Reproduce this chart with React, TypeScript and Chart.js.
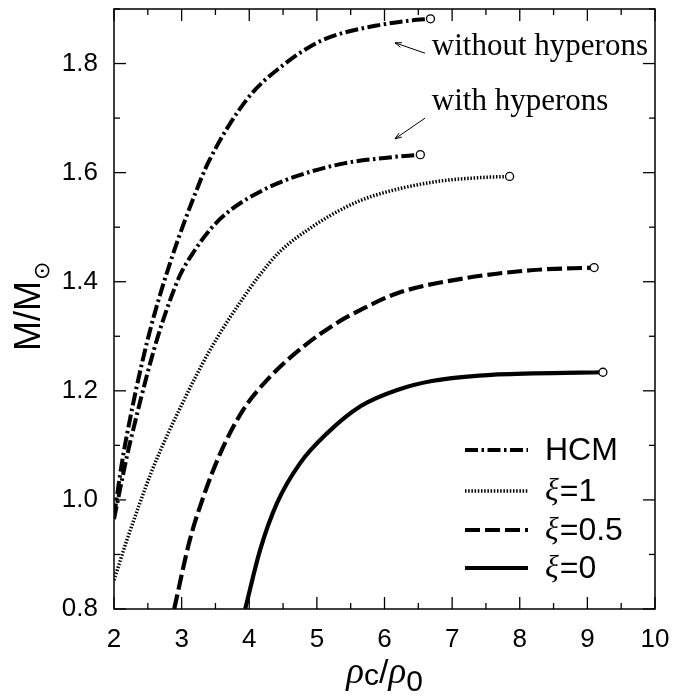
import React, { useEffect, useRef } from "react";
import { Chart, registerables } from "chart.js";

Chart.register(...registerables);

// ---- axis ticks ----
const xTickValues = [2, 3, 4, 5, 6, 7, 8, 9, 10];
const yTickValues = [0.8, 1.0, 1.2, 1.4, 1.6, 1.8];
const xMinorStep = 0.5;
const yMinorStep = 0.1;

// ---- HCM without hyperons (dash-dot, upper) ----
const rhoHcmNoHyp = [2.0, 2.12, 2.2, 2.34, 2.49, 2.59, 2.74, 2.94, 3.18, 3.4, 3.97, 4.5, 5.0, 5.3, 5.9, 6.4, 6.68];
const massHcmNoHyp = [0.97, 1.07, 1.125, 1.21, 1.29, 1.337, 1.4, 1.475, 1.555, 1.62, 1.735, 1.797, 1.838, 1.853, 1.87, 1.879, 1.882];

// ---- HCM with hyperons (dash-dot, lower) ----
const rhoHcmHyp = [2.0, 2.2, 2.3, 2.39, 2.49, 2.59, 2.69, 2.84, 2.98, 3.18, 3.43, 3.73, 4.22, 4.71, 5.4, 6.0, 6.53];
const massHcmHyp = [0.965, 1.085, 1.137, 1.182, 1.23, 1.275, 1.316, 1.37, 1.413, 1.455, 1.497, 1.532, 1.569, 1.594, 1.617, 1.627, 1.633];

// ---- xi = 1 (dotted) ----
const rhoXi1 = [2.0, 2.19, 2.55, 2.8, 3.0, 3.2, 3.43, 3.65, 3.87, 4.14, 4.45, 4.96, 5.4, 5.8, 6.68, 7.42, 7.85];
const massXi1 = [0.853, 0.926, 1.05, 1.122, 1.174, 1.224, 1.277, 1.322, 1.363, 1.41, 1.455, 1.503, 1.535, 1.556, 1.582, 1.591, 1.593];

// ---- xi = 0.5 (dashed) ----
const rhoXi05 = [2.89, 3.12, 3.32, 3.57, 3.91, 4.31, 4.8, 5.29, 5.64, 6.19, 7.17, 8.16, 9.1];
const massXi05 = [0.8, 0.926, 1.005, 1.085, 1.165, 1.226, 1.281, 1.324, 1.348, 1.379, 1.406, 1.421, 1.426];

// ---- xi = 0 (solid) ----
const rhoXi0 = [3.94, 4.16, 4.41, 4.75, 5.15, 5.65, 6.2, 6.7, 7.4, 8.2, 9.23];
const massXi0 = [0.8, 0.908, 0.994, 1.067, 1.122, 1.172, 1.202, 1.218, 1.228, 1.232, 1.234];

// ---- texts ----
const legendNames = ["HCM", "=1", "=0.5", "=0"];
const legendHasXi = [false, true, true, true];
const annotationTexts = ["without hyperons", "with hyperons"];

const SANS = "'Liberation Sans', Arial, sans-serif";
const SERIF = "'Liberation Serif', 'Times New Roman', serif";

const DASH_DOT = [13, 3.5, 2.5, 3.5];
const DOTTED = [1.5, 1.7];
const DASHED = [15, 5];
const SOLID: number[] = [];

const styles = [
  { dash: DASH_DOT, width: 4 },
  { dash: DOTTED, width: 3.5 },
  { dash: DASHED, width: 4.2 },
  { dash: SOLID, width: 4.2 },
];

function pts(xs: number[], ys: number[]) {
  return xs.map((x, i) => ({ x, y: ys[i] }));
}

function makeDataset(xs: number[], ys: number[], dash: number[], width: number) {
  return {
    data: pts(xs, ys),
    borderColor: "#000",
    borderWidth: width,
    borderDash: dash,
    cubicInterpolationMode: "monotone" as const,
    fill: false,
    pointRadius: (c: any) => (c.dataIndex === c.dataset.data.length - 1 ? 4 : 0),
    pointHoverRadius: 0,
    pointBackgroundColor: "#fff",
    pointBorderColor: "#000",
    pointBorderWidth: 1.3,
  };
}

const decorPlugin = {
  id: "decor",
  afterDraw(chart: any) {
    const { ctx, chartArea: a, scales } = chart;
    const xs = scales.x;
    const ys = scales.y;
    ctx.save();
    ctx.setLineDash([]);
    ctx.strokeStyle = "#000";
    ctx.fillStyle = "#000";

    // frame
    ctx.lineWidth = 1.5;
    ctx.strokeRect(a.left, a.top, a.right - a.left, a.bottom - a.top);

    const seg = (x1: number, y1: number, x2: number, y2: number) => {
      ctx.beginPath();
      ctx.moveTo(x1, y1);
      ctx.lineTo(x2, y2);
      ctx.stroke();
    };

    // x ticks (inside, bottom & top)
    ctx.lineWidth = 1.3;
    const xMin = xs.min, xMax = xs.max;
    const nx = Math.round((xMax - xMin) / xMinorStep);
    for (let i = 0; i <= nx; i++) {
      const v = xMin + i * xMinorStep;
      const major = xTickValues.some((t) => Math.abs(t - v) < 1e-6);
      const len = major ? 12 : 6;
      const px = xs.getPixelForValue(v);
      seg(px, a.bottom, px, a.bottom - len);
      seg(px, a.top, px, a.top + len);
    }
    // y ticks (inside, left & right)
    const yMin = ys.min, yMax = ys.max;
    const ny = Math.round((yMax - yMin) / yMinorStep);
    for (let i = 0; i <= ny; i++) {
      const v = yMin + i * yMinorStep;
      const major = yTickValues.some((t) => Math.abs(t - v) < 1e-6);
      const len = major ? 12 : 6;
      const py = ys.getPixelForValue(v);
      seg(a.left, py, a.left + len, py);
      seg(a.right, py, a.right - len, py);
    }

    // legend
    const lx0 = a.right - 190;
    const lx1 = a.right - 127;
    const tx = a.right - 110;
    const rowOffsets = [159, 118, 79, 41];
    styles.forEach((s, i) => {
      const y = a.bottom - rowOffsets[i];
      ctx.setLineDash(s.dash);
      ctx.lineWidth = s.width;
      ctx.lineCap = "butt";
      seg(lx0, y, lx1, y);
      ctx.setLineDash([]);
      ctx.textBaseline = "middle";
      ctx.textAlign = "left";
      let x = tx;
      if (legendHasXi[i]) {
        ctx.font = `italic 32px ${SERIF}`;
        ctx.fillText("ξ", x, y + 1);
        x += ctx.measureText("ξ").width + 1;
      }
      ctx.font = `32px ${SANS}`;
      ctx.fillText(legendNames[i], x, y + 1);
    });

    // annotations
    ctx.font = `31px ${SERIF}`;
    ctx.textBaseline = "alphabetic";
    ctx.textAlign = "left";
    const annX = xs.getPixelForValue(6.7);
    ctx.fillText(annotationTexts[0], annX, ys.getPixelForValue(1.816));
    ctx.fillText(annotationTexts[1], annX, ys.getPixelForValue(1.715));

    const arrow = (x1: number, y1: number, x2: number, y2: number) => {
      ctx.lineWidth = 1;
      seg(x1, y1, x2, y2);
      const ang = Math.atan2(y2 - y1, x2 - x1);
      const hl = 7, hw = 0.35;
      seg(x2, y2, x2 - hl * Math.cos(ang - hw), y2 - hl * Math.sin(ang - hw));
      seg(x2, y2, x2 - hl * Math.cos(ang + hw), y2 - hl * Math.sin(ang + hw));
    };
    arrow(xs.getPixelForValue(6.6), ys.getPixelForValue(1.819), xs.getPixelForValue(6.155), ys.getPixelForValue(1.838));
    arrow(xs.getPixelForValue(6.6), ys.getPixelForValue(1.7), xs.getPixelForValue(6.155), ys.getPixelForValue(1.662));

    // x axis title: rho_c / rho_0
    {
      const base = a.bottom + 74;
      const parts = [
        { t: "ρ", f: `italic 37px ${SERIF}`, dy: 0 },
        { t: "c", f: `30px ${SANS}`, dy: 2 },
        { t: "/", f: `34px ${SANS}`, dy: 0 },
        { t: "ρ", f: `italic 37px ${SERIF}`, dy: 0 },
        { t: "0", f: `30px ${SANS}`, dy: 8 },
      ];
      let total = 0;
      const widths = parts.map((p) => {
        ctx.font = p.f;
        const w = ctx.measureText(p.t).width;
        total += w;
        return w;
      });
      let x = (a.left + a.right) / 2 - total / 2;
      ctx.textAlign = "left";
      ctx.textBaseline = "alphabetic";
      parts.forEach((p, i) => {
        ctx.font = p.f;
        ctx.fillText(p.t, x, base + p.dy);
        x += widths[i];
      });
    }

    // y axis title: M / M_sun
    {
      ctx.translate(40, (a.top + a.bottom) / 2 + 42);
      ctx.rotate(-Math.PI / 2);
      ctx.textAlign = "left";
      ctx.textBaseline = "alphabetic";
      ctx.font = `36px ${SANS}`;
      const main = "M/M";
      ctx.fillText(main, 0, 0);
      const w = ctx.measureText(main).width;
      ctx.font = `22px 'DejaVu Sans', sans-serif`;
      ctx.textBaseline = "middle";
      ctx.fillText("⊙", w + 1, 3);
    }

    ctx.restore();
  },
};

const zeroPadding = (s: any) => {
  s.paddingTop = 0;
  s.paddingBottom = 0;
  s.paddingLeft = 0;
  s.paddingRight = 0;
};

export default function App() {
  const canvasRef = useRef<HTMLCanvasElement | null>(null);

  useEffect(() => {
    const canvas = canvasRef.current;
    if (!canvas) return;
    const chart = new Chart(canvas, {
      type: "line",
      data: {
        datasets: [
          makeDataset(rhoHcmNoHyp, massHcmNoHyp, DASH_DOT, 4),
          makeDataset(rhoHcmHyp, massHcmHyp, DASH_DOT, 4),
          makeDataset(rhoXi1, massXi1, DOTTED, 3.5),
          makeDataset(rhoXi05, massXi05, DASHED, 4.2),
          makeDataset(rhoXi0, massXi0, SOLID, 4.2),
        ] as any,
      },
      options: {
        animation: false,
        responsive: false,
        maintainAspectRatio: false,
        devicePixelRatio: 1,
        events: [],
        layout: { padding: { top: 9, right: 18, left: 0, bottom: 0 } },
        plugins: {
          legend: { display: false },
          tooltip: { enabled: false },
          title: { display: false },
        },
        scales: {
          x: {
            type: "linear",
            min: 2,
            max: 10,
            afterBuildTicks: (s: any) => {
              s.ticks = xTickValues.map((v) => ({ value: v }));
            },
            afterFit: (s: any) => {
              s.height = 87;
              zeroPadding(s);
            },
            grid: { display: false, drawTicks: false },
            border: { display: false },
            ticks: {
              autoSkip: false,
              maxRotation: 0,
              padding: 15,
              color: "#000",
              font: { family: SANS, size: 26 },
              callback: (v: any) => String(v),
            },
          },
          y: {
            type: "linear",
            min: 0.8,
            max: 1.9,
            afterBuildTicks: (s: any) => {
              s.ticks = yTickValues.map((v) => ({ value: v }));
            },
            afterFit: (s: any) => {
              s.width = 114;
              zeroPadding(s);
            },
            grid: { display: false, drawTicks: false },
            border: { display: false },
            ticks: {
              autoSkip: false,
              padding: 16,
              color: "#000",
              font: { family: SANS, size: 26 },
              callback: (v: any) => Number(v).toFixed(1),
            },
          },
        },
      },
      plugins: [decorPlugin],
    });
    return () => chart.destroy();
  }, []);

  return (
    <div style={{ position: "absolute", left: 0, top: 0, width: 673, height: 696, background: "#fff" }}>
      <canvas ref={canvasRef} width={673} height={696} style={{ display: "block", width: 673, height: 696 }} />
    </div>
  );
}
